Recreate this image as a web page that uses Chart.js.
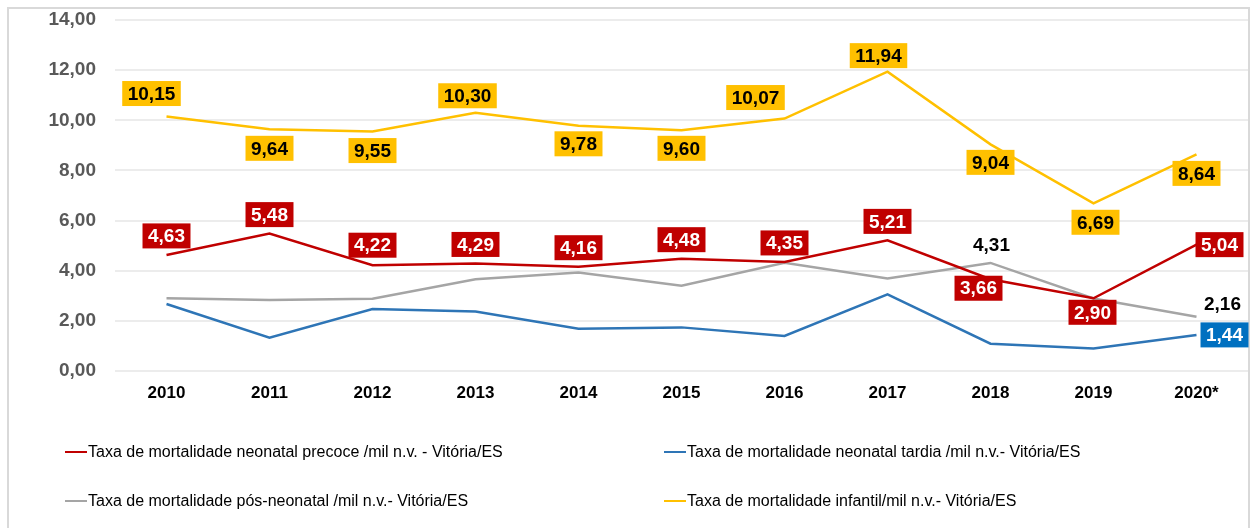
<!DOCTYPE html>
<html>
<head>
<meta charset="utf-8">
<script src="https://cdn.jsdelivr.net/npm/chart.js@4.4.1/dist/chart.umd.min.js"></script>
<style>
  html, body { margin: 0; padding: 0; background: #fff; }
  #wrap { position: relative; width: 1250px; height: 528px; overflow: hidden; }
  #frame { position: absolute; left: 7px; top: 7px; width: 1243px; height: 540px; border: 2px solid #d9d9d9; box-sizing: border-box; }
  #canvas { position: absolute; left: 0; top: 0; }
  #legend { position: absolute; left: 65px; top: 427px; display: grid; grid-template-columns: 599px auto; grid-auto-rows: 49px; }
  .item { display: flex; align-items: center; font: 16px 'Liberation Sans', Arial, sans-serif; color: #000; white-space: nowrap; }
  .item .ln { display: inline-block; width: 22px; height: 2px; margin-right: 1px; }
</style>
</head>
<body>
<div id="wrap">
  <div id="frame"></div>
  <canvas id="canvas" width="1250" height="528"></canvas>
  <div id="legend"></div>
</div>
<script>
// categories
const years = ['2010', '2011', '2012', '2013', '2014', '2015', '2016', '2017', '2018', '2019', '2020*'];

// series (taxa /mil n.v. - Vitória/ES)
const precoce     = [4.63, 5.48, 4.22, 4.29, 4.16, 4.48, 4.35, 5.21, 3.66, 2.90, 5.04];
const tardia      = [2.67, 1.33, 2.47, 2.37, 1.69, 1.74, 1.40, 3.06, 1.09, 0.90, 1.44];
const posNeonatal = [2.90, 2.83, 2.88, 3.66, 3.93, 3.40, 4.32, 3.69, 4.31, 2.89, 2.16];
const infantil    = [10.15, 9.64, 9.55, 10.30, 9.78, 9.60, 10.07, 11.94, 9.04, 6.69, 8.64];

// y axis
const yMin = 0, yMax = 14, yStep = 2;

// where each value label sits relative to its point (null = no label)
const precoceLabelAt  = [[0,-19],[0,-19],[0,-20],[0,-19],[0,-19],[0,-19],[0,-19],[0,-19],[-12,9],[-1,14],[23,0]];
const tardiaLabelAt   = [null,null,null,null,null,null,null,null,null,null,[28,0]];
const posLabelAt      = [null,null,null,null,null,null,null,null,[1,-18],null,[26,-13]];
const infantilLabelAt = [[-15,-23],[0,19],[0,19],[-8,-17],[0,18],[0,18],[-29,-21],[-9,-16],[0,18],[2,19],[0,19]];

const FONT = "'Liberation Sans', Arial, sans-serif";
Chart.defaults.font.family = FONT;

const fmt = v => v.toFixed(2).replace('.', ',');

const datasets = [
  { label: 'Taxa de mortalidade neonatal precoce /mil n.v. - Vitória/ES', data: precoce,
    borderColor: '#C00000', box: '#C00000', text: '#ffffff', at: precoceLabelAt },
  { label: 'Taxa de mortalidade neonatal tardia /mil n.v.- Vitória/ES', data: tardia,
    borderColor: '#2E75B6', box: '#0070C0', text: '#ffffff', at: tardiaLabelAt },
  { label: 'Taxa de mortalidade pós-neonatal /mil n.v.- Vitória/ES', data: posNeonatal,
    borderColor: '#A5A5A5', box: null, text: '#000000', at: posLabelAt },
  { label: 'Taxa de mortalidade infantil/mil n.v.- Vitória/ES', data: infantil,
    borderColor: '#FFC000', box: '#FFC000', text: '#000000', at: infantilLabelAt }
];
datasets.forEach(d => { d.borderWidth = 2.5; d.pointRadius = 0; d.tension = 0; d.fill = false; });

const valueLabels = {
  id: 'valueLabels',
  afterDatasetsDraw(chart) {
    const ctx = chart.ctx;
    ctx.save();
    ctx.font = 'bold 19px ' + FONT;
    ctx.textAlign = 'center';
    ctx.textBaseline = 'middle';
    chart.data.datasets.forEach((ds, i) => {
      const meta = chart.getDatasetMeta(i);
      meta.data.forEach((pt, j) => {
        const off = ds.at[j];
        if (!off) return;
        const txt = fmt(ds.data[j]);
        const w = ctx.measureText(txt).width + 11, h = 25;
        const cx = pt.x + off[0], cy = pt.y + off[1];
        if (ds.box) {
          ctx.fillStyle = ds.box;
          ctx.fillRect(cx - w / 2, cy - h / 2, w, h);
        }
        ctx.fillStyle = ds.text;
        ctx.fillText(txt, cx, cy + 1);
      });
    });
    ctx.restore();
  }
};

const chart = new Chart(document.getElementById('canvas'), {
  type: 'line',
  data: { labels: years, datasets: datasets },
  options: {
    responsive: false,
    animation: false,
    layout: { padding: { top: 20, right: 2, left: 0, bottom: 0 } },
    plugins: { legend: { display: false }, tooltip: { enabled: false } },
    scales: {
      x: {
        offset: true,
        grid: { display: false, drawTicks: false },
        border: { display: false },
        ticks: { color: '#000', font: { size: 17, weight: 'bold' }, padding: 12, maxRotation: 0 },
        afterFit: s => { s.height = 157; s.paddingLeft = 0; s.paddingRight = 0; }
      },
      y: {
        min: yMin, max: yMax,
        grid: { color: '#ececec', lineWidth: 2, drawTicks: false },
        border: { display: false },
        ticks: { stepSize: yStep, color: '#595959', font: { size: 19, weight: 'bold' }, padding: 19,
          callback: v => fmt(v) },
        afterFit: s => { s.width = 115; s.paddingTop = 0; s.paddingBottom = 0; }
      }
    }
  },
  plugins: [valueLabels]
});

// legend, two columns
const legendOrder = [0, 1, 2, 3];
const legend = document.getElementById('legend');
legendOrder.forEach(i => {
  const ds = datasets[i];
  const it = document.createElement('div');
  it.className = 'item';
  const ln = document.createElement('span');
  ln.className = 'ln';
  ln.style.background = ds.borderColor;
  it.appendChild(ln);
  it.appendChild(document.createTextNode(ds.label));
  legend.appendChild(it);
});
</script>
</body>
</html>
